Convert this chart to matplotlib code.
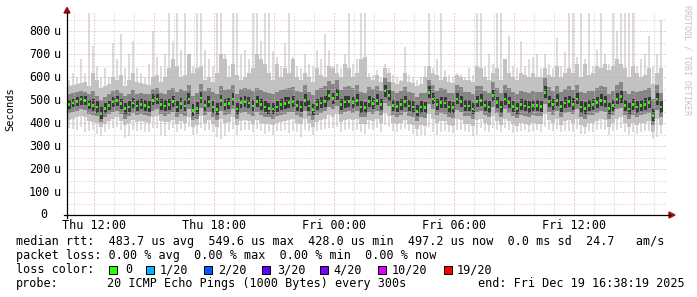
import matplotlib
matplotlib.use("Agg")
import matplotlib.pyplot as plt
import numpy as np
from matplotlib.patches import Rectangle, Polygon
from matplotlib.lines import Line2D

# ---------------- data (values in microseconds, 12-minute columns) ----------------
med = [480,488,495,505,500,482,478,470,440,465,478,492,498,485,465,470,488,475,482,478,470,500,505,480,475,
       480,495,470,485,475,505,455,465,510,478,492,470,460,498,480,485,505,462,490,492,488,475,495,480,470,
       465,462,470,480,485,490,492,478,470,500,475,458,480,488,495,520,508,525,480,492,495,490,500,470,468,
       495,485,500,480,540,520,478,472,480,495,475,470,452,470,468,535,505,480,490,488,470,468,505,495,475,
       475,462,495,500,478,470,520,490,470,505,490,472,465,480,475,470,478,476,474,535,495,480,500,472,488,
       495,482,505,470,465,478,480,490,500,495,465,478,505,515,478,462,480,470,478,482,490,432,505,470]
c_lo = [462,470,474,480,478,462,455,445,420,445,458,470,475,462,440,450,465,455,460,455,450,478,482,458,452,
        458,472,448,462,452,482,432,440,486,455,470,446,436,474,456,462,480,440,468,470,465,452,472,456,448,
        442,440,448,456,462,468,470,455,448,476,452,435,456,465,472,495,485,500,458,468,472,466,476,446,444,
        472,462,478,456,515,496,455,450,456,472,452,446,430,446,444,510,482,456,466,465,446,444,482,470,452,
        452,440,472,476,455,446,495,468,446,480,466,450,442,456,452,446,455,452,450,510,472,456,476,448,465,
        472,458,482,446,440,455,456,466,476,472,440,455,482,490,455,438,456,446,455,458,465,410,480,446]
c_hi = [500,505,512,520,518,500,505,495,470,490,498,512,520,505,490,495,510,500,505,500,498,525,528,505,500,
        505,520,495,510,500,530,482,492,535,502,518,495,488,522,505,510,530,488,515,518,512,500,520,505,496,
        490,488,495,505,512,515,518,502,496,525,500,484,505,512,520,545,532,550,505,518,520,515,525,496,494,
        520,510,525,505,565,545,502,498,505,520,500,495,478,495,492,560,530,505,515,512,495,492,530,520,500,
        500,488,520,525,502,496,545,515,495,530,515,498,490,505,500,495,502,500,498,560,520,505,525,498,512,
        520,508,530,496,492,502,505,515,525,520,490,502,530,540,502,488,505,496,502,508,515,460,530,495]
q1 = [445,450,455,462,458,440,435,430,405,425,440,450,455,440,420,430,445,435,440,435,430,455,460,440,432,
      438,450,428,440,432,460,415,420,465,435,448,425,415,452,435,440,460,420,445,448,442,430,450,436,428,
      425,420,430,436,440,448,450,435,428,455,432,415,436,445,452,470,462,475,438,448,452,445,455,428,425,
      450,442,455,436,490,475,435,428,436,450,432,425,410,425,422,485,460,436,445,442,425,422,458,450,432,
      432,420,450,455,435,428,472,446,426,460,446,430,422,436,432,428,435,432,430,485,450,436,455,428,445,
      450,438,460,425,420,435,436,445,455,450,420,435,460,468,435,418,436,425,435,438,445,390,458,425]
q3 = [525,530,535,540,538,528,540,520,500,515,525,540,545,530,520,525,545,528,530,528,525,548,552,532,528,
      545,555,535,548,540,565,520,530,570,540,552,535,525,560,545,548,565,528,550,552,548,540,555,545,535,
      530,528,535,545,550,555,558,540,535,565,538,522,545,552,560,585,570,590,545,558,560,555,565,535,532,
      558,548,560,540,595,580,540,532,542,558,538,530,515,532,530,590,568,540,552,550,532,530,565,558,538,
      538,525,560,562,540,532,580,552,532,568,552,535,528,542,538,532,540,538,535,595,558,542,562,535,550,
      560,545,568,535,530,540,542,552,562,558,528,540,568,578,540,525,542,535,540,545,552,505,565,532]
p10 = [415,420,425,430,425,410,405,400,385,398,410,420,425,410,390,400,415,405,410,405,400,425,430,410,405,
       405,415,398,410,400,425,385,390,430,402,412,395,385,420,400,405,425,390,410,412,408,398,415,402,395,
       395,390,400,405,410,415,418,402,398,420,400,385,405,412,418,435,428,440,405,415,418,412,420,398,395,
       415,410,420,400,445,430,400,395,400,415,398,390,375,392,388,440,420,400,410,408,392,388,420,415,398,
       398,388,415,420,400,392,430,410,390,420,410,395,388,400,398,392,400,398,395,440,415,400,420,392,410,
       412,400,420,392,385,400,400,410,418,415,385,400,420,428,400,385,400,392,400,402,410,360,418,392]
p90 = [560,565,570,575,580,560,620,590,555,560,570,600,590,610,560,590,620,580,575,570,565,600,610,580,600,
       640,680,650,600,610,700,620,640,650,590,600,580,620,700,680,600,660,610,590,600,620,640,700,680,660,
       620,590,660,600,640,620,680,600,590,620,600,580,640,610,600,650,640,620,600,660,640,600,620,680,690,
       600,590,610,580,640,620,580,570,585,620,580,575,560,570,600,650,620,610,590,600,580,575,610,600,590,
       590,580,650,640,600,590,620,640,590,680,620,600,590,620,610,600,620,600,600,640,610,600,650,600,620,
       640,620,660,600,660,610,620,650,640,660,630,650,680,660,640,600,650,620,600,610,640,570,620,640]
mn = [380,375,372,385,360,365,370,355,345,360,375,380,385,370,335,345,372,365,370,362,360,380,378,350,345,
      372,380,360,375,368,385,350,355,380,365,372,360,340,330,345,360,375,350,365,370,372,360,375,365,355,
      360,350,365,368,372,358,365,360,340,370,365,350,368,372,375,380,378,385,360,370,375,365,372,360,355,
      375,370,380,362,390,385,365,360,370,375,365,352,345,348,350,385,360,350,362,365,360,358,370,372,365,
      360,345,348,378,368,362,380,370,360,380,370,358,360,365,370,362,365,370,360,385,372,365,375,360,368,
      368,362,375,355,355,365,362,370,375,370,350,365,372,380,360,350,362,355,360,365,365,330,340,352]
mx = [590,620,600,680,620,880,735,650,600,640,600,750,680,790,640,700,760,640,620,600,660,800,690,650,700,
      880,760,880,720,880,700,650,880,880,720,680,650,880,880,700,650,880,880,700,720,680,880,880,760,880,
      880,715,690,650,750,880,690,650,640,700,660,650,720,680,790,720,650,660,640,700,880,660,680,880,880,
      620,610,630,600,660,640,610,600,590,730,610,600,590,600,650,880,640,680,880,630,610,600,620,615,600,
      640,610,880,880,650,700,660,880,880,680,780,650,640,760,650,680,690,700,640,700,660,640,770,650,710,
      880,880,690,880,680,880,650,720,880,700,660,880,800,880,880,880,880,650,680,700,780,650,700,850]

start_hour = 10.65          # Thu 10:39, hours since Thu 00:00
step_hours = 0.2            # 12 minutes per column
x_tick_hours = [12, 18, 24, 30, 36]
x_tick_labels = ["Thu 12:00", "Thu 18:00", "Fri 00:00", "Fri 06:00", "Fri 12:00"]
y_ticks = [0, 100, 200, 300, 400, 500, 600, 700, 800]

legend_line1 = "median rtt:  483.7 us avg  549.6 us max  428.0 us min  497.2 us now  0.0 ms sd  24.7   am/s"
legend_line2 = "packet loss: 0.00 % avg  0.00 % max  0.00 % min  0.00 % now"
loss_labels = ["0", "1/20", "2/20", "3/20", "4/20", "10/20", "19/20"]
loss_colors = ["#26ff00", "#00b8ff", "#0059ff", "#5e00ff", "#7e00ff", "#dd00ff", "#ff0000"]
probe_text = "20 ICMP Echo Pings (1000 Bytes) every 300s"
end_text = "end: Fri Dec 19 16:38:19 2025"

# ---------------- figure ----------------
plt.rcParams["font.family"] = ["DejaVu Sans Mono"]
W, H = 697, 297
fig = plt.figure(figsize=(W / 100, H / 100), dpi=100)
fig.patch.set_facecolor("white")

def fx(px):
    return px / W

def fy(py):
    return 1 - py / H

ax = fig.add_axes([fx(67), fy(215), 600 / W, (215 - 13) / H])
ax.set_facecolor("white")

n = min(map(len, [med, c_lo, c_hi, q1, q3, p10, p90, mn, mx]))
arr = lambda a: np.asarray(a[:n], dtype=float)
med_a, clo_a, chi_a = arr(med), arr(c_lo), arr(c_hi)
q1_a, q3_a, p10_a, p90_a, mn_a, mx_a = arr(q1), arr(q3), arr(p10), arr(p90), arr(mn), arr(mx)
xs = start_hour + np.arange(n) * step_hours

# outermost pings: thin light spikes
ax.bar(xs + step_hours * 0.25, mx_a - mn_a, bottom=mn_a, width=step_hours * 0.5, align="edge",
       color="#dcdcdc", linewidth=0, antialiased=False, zorder=1)
for lo, hi, col, wfrac in [(p10_a, p90_a, "#c2c2c2", 1.0),
                           (q1_a, q3_a, "#868686", 1.0),
                           (clo_a, chi_a, "#383838", 0.75)]:
    ax.bar(xs + step_hours * (1 - wfrac) / 2, hi - lo, bottom=lo, width=step_hours * wfrac,
           align="edge", color=col, linewidth=0, antialiased=False, zorder=1)

ax.bar(xs + 0.03, 12, bottom=med_a - 6, width=0.14, align="edge",
       color="#26ff00", linewidth=0, antialiased=False, zorder=3)

x0, x1 = start_hour, start_hour + 30
ax.set_xlim(x0, x1)
ax.set_ylim(0, 880)

# grid (dotted, drawn over the data like rrdtool)
dot = (0, (1, 2))
for h in range(11, 41):
    c = "#e0a0a0" if h % 3 == 0 else "#c8c8c8"
    ax.axvline(h, color=c, linestyle=dot, linewidth=0.72, zorder=4)
for v in range(50, 880, 50):
    c = "#e0a0a0" if v % 100 == 0 else "#c8c8c8"
    ax.axhline(v, color=c, linestyle=dot, linewidth=0.72, zorder=4)

for s in ax.spines.values():
    s.set_visible(False)

ax.set_xticks(x_tick_hours)
ax.set_xticklabels(x_tick_labels, fontsize=8.5)
ax.tick_params(axis="x", length=0, pad=3, colors="black")
ax.set_yticks([])

ytr = ax.get_yaxis_transform()
for v in y_ticks:
    if v == 0:
        ax.text((47.5 - 67) / 600, v, "0", transform=ytr, ha="right", va="center", fontsize=8.5)
    else:
        ax.text((50.5 - 67) / 600, v, str(v), transform=ytr, ha="right", va="center", fontsize=8.5)
        ax.text((54.0 - 67) / 600, v, "u", transform=ytr, ha="left", va="center", fontsize=8.5)

# axis lines and arrows
fig.add_artist(Line2D([fx(64), fx(670)], [fy(215), fy(215)], color="black", linewidth=0.9))
fig.add_artist(Line2D([fx(67), fx(67)], [fy(218), fy(12)], color="black", linewidth=0.9))
fig.add_artist(Polygon([[fx(64), fy(13)], [fx(70), fy(13)], [fx(67), fy(7.5)]],
                       closed=True, color="#9a1010", transform=fig.transFigure))
fig.add_artist(Polygon([[fx(669), fy(212)], [fx(669), fy(218)], [fx(675), fy(215)]],
                       closed=True, color="#9a1010", transform=fig.transFigure))

# labels
fig.text(fx(10), fy(109), "Seconds", rotation=90, ha="center", va="center", fontsize=7.5)
fig.text(fx(687), fy(5), "RRDTOOL / TOBI OETIKER", rotation=-90, ha="center", va="top",
         fontsize=6, color="#c4c4c4")

# legend
fs = 8.5
fig.text(fx(16), fy(245.3), legend_line1, ha="left", va="baseline", fontsize=fs)
fig.text(fx(16), fy(259.3), legend_line2, ha="left", va="baseline", fontsize=fs)
fig.text(fx(16), fy(273.3), "loss color:", ha="left", va="baseline", fontsize=fs)
box_x = [108.5, 146, 203.5, 262, 319.5, 378, 443.5]
text_x = [125, 160, 218, 277, 333, 392, 457]
for bx, tx, lab, col in zip(box_x, text_x, loss_labels, loss_colors):
    fig.add_artist(Rectangle((fx(bx), fy(273.5)), 8 / W, 8 / H, transform=fig.transFigure,
                             facecolor=col, edgecolor="black", linewidth=0.72))
    fig.text(fx(tx), fy(273.3), lab, ha="left", va="baseline", fontsize=fs)
fig.text(fx(16), fy(287), "probe:", ha="left", va="baseline", fontsize=fs)
fig.text(fx(107), fy(287), probe_text, ha="left", va="baseline", fontsize=fs)
fig.text(fx(478), fy(287), end_text, ha="left", va="baseline", fontsize=fs)

fig.savefig("out.png", dpi=100, facecolor="white")
